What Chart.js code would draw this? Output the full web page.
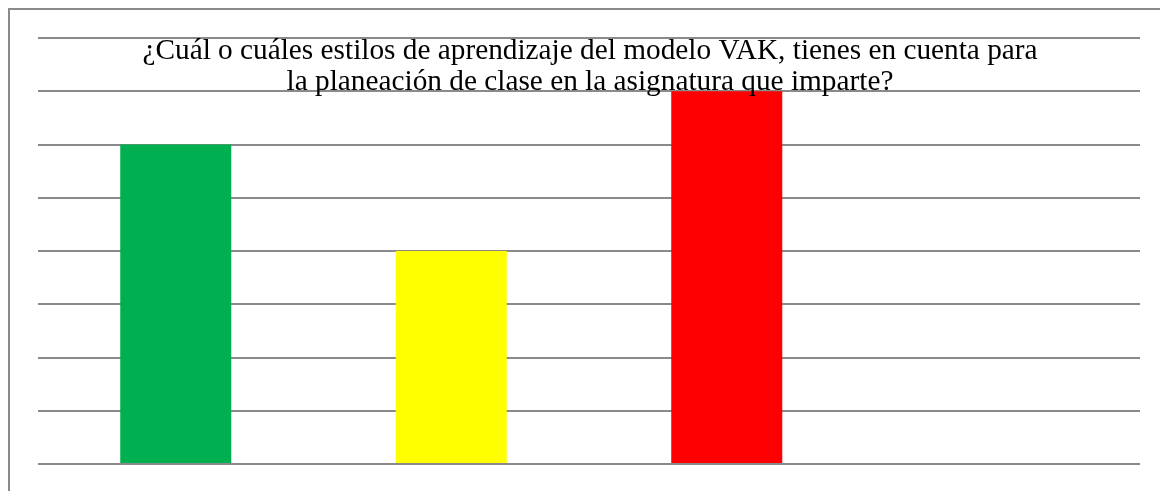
<!DOCTYPE html>
<html>
<head>
<meta charset="utf-8">
<script src="https://cdn.jsdelivr.net/npm/chart.js@4/dist/chart.umd.min.js"></script>
<style>
  html, body { margin: 0; padding: 0; background: #fff; overflow: hidden; width: 1160px; height: 491px; }
  #frame { position: absolute; left: 8px; top: 8px; width: 1200px; height: 600px; border: 2px solid #8a8a8a; box-sizing: border-box; }
  #wrap { position: absolute; left: 0; top: 0; width: 1160px; height: 491px; }
</style>
</head>
<body>
<div id="frame"></div>
<div id="wrap"><canvas id="c"></canvas></div>
<script>
const categories = ["Visual", "Auditivo", "Kinestésico", ""];
const values = [6, 4, 7, 0];
const barColors = ["#00B050", "#FFFF00", "#FF0000", "#FFFFFF"];
const titleLines = [
  "¿Cuál o cuáles estilos de aprendizaje del modelo VAK, tienes en cuenta para",
  "la planeación de clase en la asignatura que imparte?"
];
const yMin = 0, yMax = 8, yStep = 1;

const titlePlugin = {
  id: 'overlayTitle',
  afterDatasetsDraw(chart) {
    const ctx = chart.ctx;
    const area = chart.chartArea;
    ctx.save();
    ctx.fillStyle = '#000';
    ctx.font = '29.3px "Liberation Serif", "Times New Roman", serif';
    ctx.textAlign = 'center';
    ctx.textBaseline = 'alphabetic';
    const cx = (area.left + area.right) / 2 + 1;
    ctx.fillText(titleLines[0], cx, area.top + 21);
    ctx.fillText(titleLines[1], cx, area.top + 52);
    ctx.restore();
  }
};

new Chart(document.getElementById('c'), {
  type: 'bar',
  data: {
    labels: categories,
    datasets: [{
      data: values,
      backgroundColor: barColors,
      borderWidth: 0,
      barPercentage: 0.403,
      categoryPercentage: 1.0
    }]
  },
  options: {
    responsive: true,
    maintainAspectRatio: false,
    animation: false,
    layout: { padding: { left: 38, right: 20, top: 38, bottom: 27 } },
    plugins: { legend: { display: false }, title: { display: false }, tooltip: { enabled: false } },
    scales: {
      x: { display: false, offset: true },
      y: {
        min: yMin, max: yMax,
        ticks: { display: false, stepSize: yStep },
        grid: { color: '#8a8a8a', lineWidth: 2, drawTicks: false },
        border: { display: false },
        afterFit(scale) { scale.width = 0; }
      }
    }
  },
  plugins: [titlePlugin]
});
</script>
</body>
</html>
